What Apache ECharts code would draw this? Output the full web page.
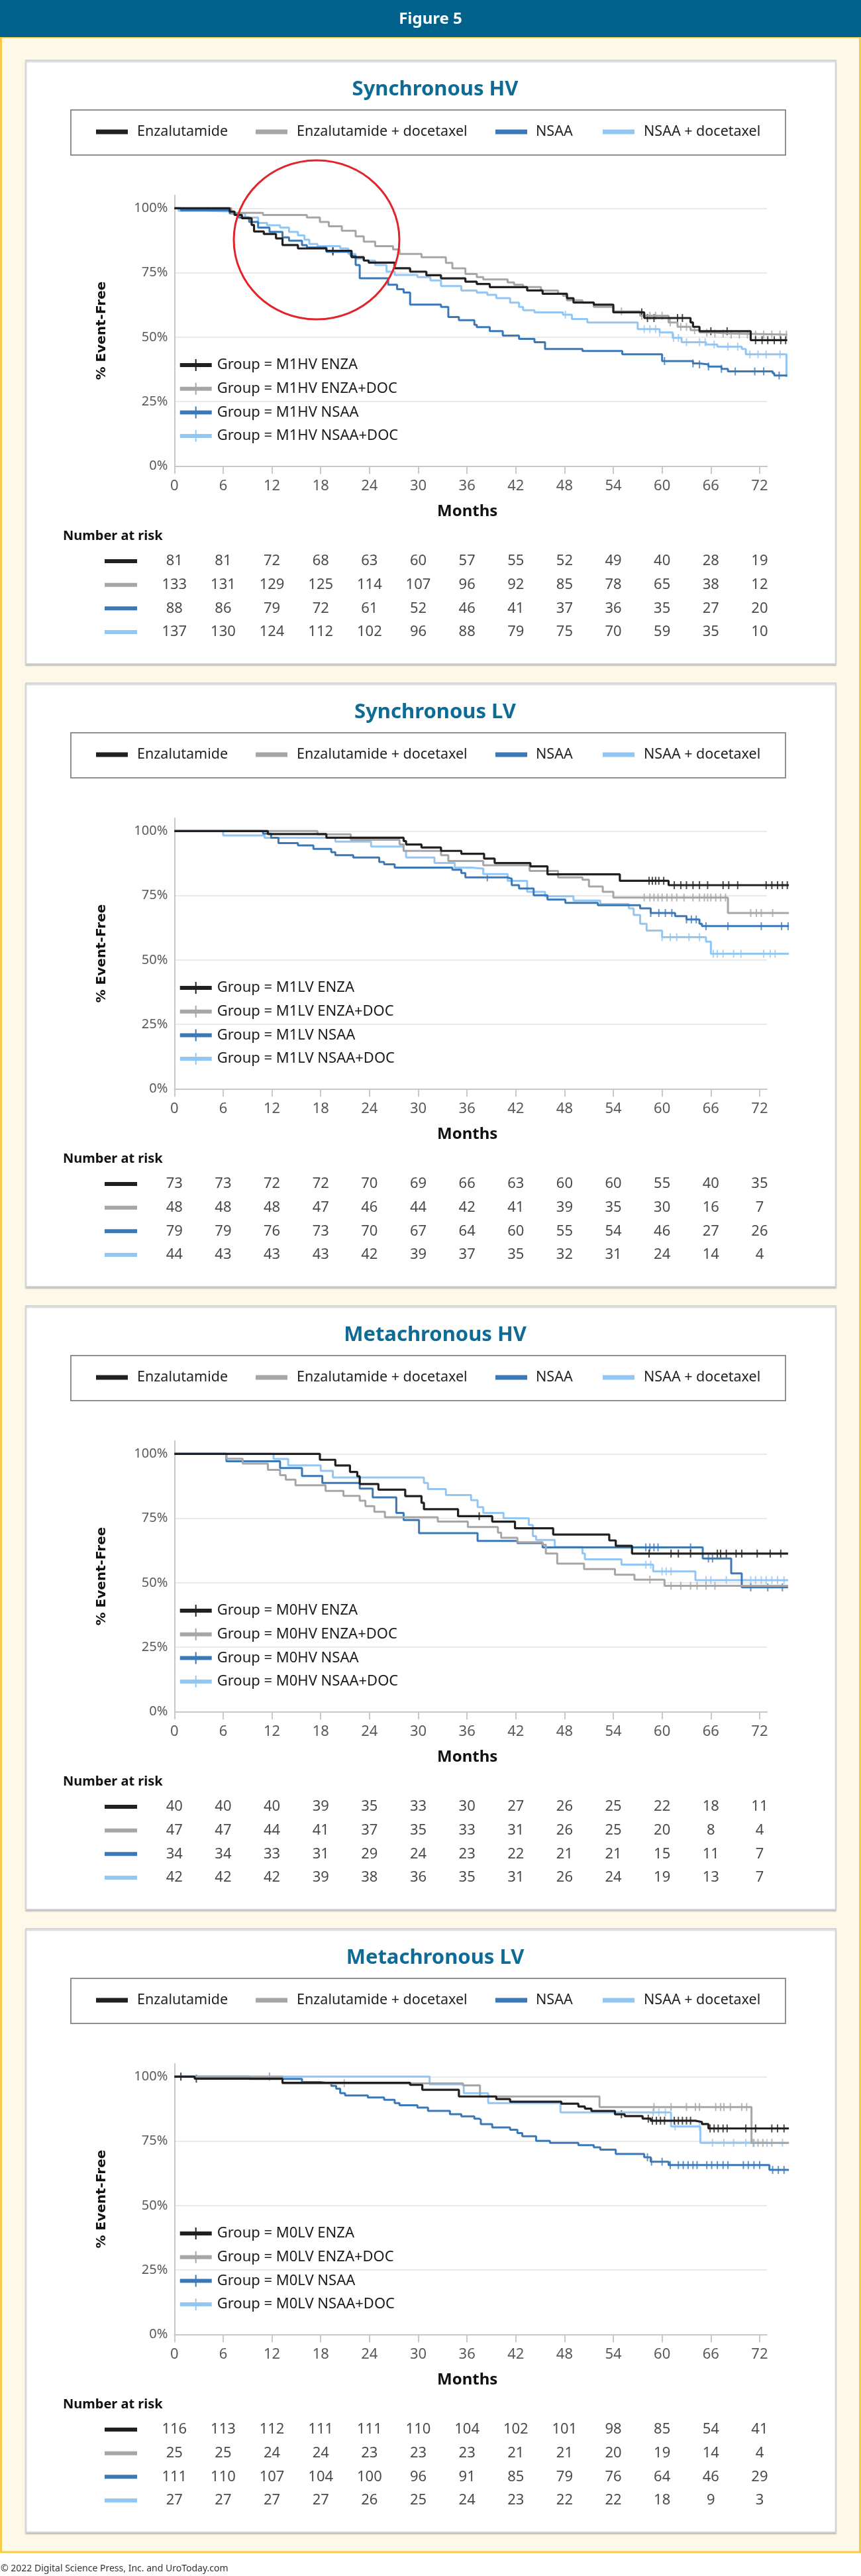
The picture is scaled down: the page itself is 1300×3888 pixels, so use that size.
<!DOCTYPE html>
<html>
<head>
<meta charset="utf-8">
<title>Figure 5</title>
<script src="https://cdn.jsdelivr.net/npm/echarts@6/dist/echarts.min.js"></script>
<style>
  html, body { margin: 0; padding: 0; background: #fff; }
  #chart { width: 1300px; height: 3888px; }
</style>
</head>
<body>
<div id="chart"></div>
<script>
// tick months shared by the plots and the number-at-risk rows
const months = [0, 6, 12, 18, 24, 30, 36, 42, 48, 54, 60, 66, 72]

const groupNames = ['Enzalutamide', 'Enzalutamide + docetaxel', 'NSAA', 'NSAA + docetaxel']
const armCodes = ['ENZA', 'ENZA+DOC', 'NSAA', 'NSAA+DOC']
const armColors = ['#231f20', '#a6a6a6', '#3a78b8', '#93c6f2']

// ---- Synchronous HV (M1HV) : [month, % event-free], step curves
const shvEnza = [[0, 100], [6.8, 98.7], [7.4, 97.4], [8.3, 96.1], [9.5, 93.5], [9.8, 91], [11, 90], [12.5, 88.3], [13.3, 85.7], [15.2, 84.4], [18.7, 83.5], [21.8, 81], [23.3, 79.7], [23.9, 78.9], [27.1, 76.7], [29, 75.4], [31, 74], [32.8, 72.8], [35.8, 71.5], [37.2, 70.6], [38.8, 69.4], [43.4, 68.1], [45.3, 66.8], [48.3, 65.1], [49.1, 63.4], [51.6, 62.6], [54, 59.6], [57.8, 57.4], [63.5, 55.7], [63.8, 54], [64.6, 52.3], [70.9, 48.8], [75.4, 48.8]]
const shvEnzaDoc = [[0, 100], [7, 98.2], [10.9, 97.4], [16.3, 96.4], [17.9, 94.7], [19, 93], [20.6, 91.3], [22.3, 89.1], [23.3, 87], [24.7, 85.3], [26.9, 84], [27.7, 82.3], [30.4, 81], [33.4, 78.8], [34.2, 76.7], [35.8, 74.5], [37.2, 73.3], [38, 72.4], [41, 71.2], [41.8, 70.3], [42.9, 69.4], [45.1, 68.1], [47.2, 66.8], [47.8, 66], [48.3, 64.3], [50.2, 63.4], [51.6, 61.7], [54, 60], [57.3, 58.3], [60.8, 55.7], [61.9, 54], [63.5, 52.7], [64.6, 51.8], [66.2, 51.4], [68, 51], [75.4, 51]]
const shvNsaa = [[0, 100], [0.8, 99.2], [6.8, 98], [7.9, 96.4], [9.2, 94.7], [10.3, 92.5], [11.7, 90.8], [13.3, 88.7], [14.1, 87.4], [15.7, 85.7], [16.3, 84.8], [18.7, 83.1], [21.7, 81.5], [22.3, 78], [22.8, 72.8], [26.3, 70.3], [27.4, 68.6], [28.2, 67.3], [29, 62.6], [32.8, 61.7], [33.7, 57.8], [35, 56.6], [36.9, 54.8], [37.2, 53.9], [38.8, 52.3], [40.4, 50.6], [42.4, 49.3], [44.3, 48], [45.6, 45.4], [50.2, 44.6], [55.1, 43.3], [60, 40.7], [63.8, 39.8], [64.6, 39.4], [65.7, 38.6], [67.3, 37.7], [68.1, 36.7], [73.6, 36], [73.8, 35.1], [75.4, 35.1]]
const shvNsaaDoc = [[0, 100], [0.5, 99], [4, 98.7], [7.1, 98], [8.7, 96.4], [10.3, 94.3], [11.4, 93.4], [13, 92.5], [14.1, 90.8], [15.2, 89.5], [16, 87.8], [16.6, 86.1], [17.6, 85.3], [20.4, 84.4], [21.4, 82.3], [22.3, 80.5], [23.3, 79.7], [24.7, 78], [26.1, 75.4], [27.1, 74.1], [29.9, 73.3], [31.5, 72], [32.8, 69.8], [35.3, 68.1], [37.2, 67.3], [38.5, 66.4], [39.6, 65.1], [41.3, 63.4], [42.4, 61.7], [42.9, 60.4], [44.3, 59.6], [47.8, 58.7], [48.9, 57], [50.8, 55.7], [57, 53.1], [59.7, 51.8], [61.3, 49.7], [62.4, 48], [65.4, 47.1], [66.8, 46.3], [69.8, 45.4], [70.3, 43.3], [75.3, 34.5]]
// censor times (months)
const shvEnzaCens = [19.5, 57.5, 58.2, 59, 61.9, 62.5, 66, 68, 71.5, 72.3, 73, 73.8, 74.6, 75.2]
const shvEnzaDocCens = [55, 57.5, 58.5, 59.2, 60, 61, 62.3, 63, 64, 65.5, 66.5, 67.5, 68.5, 69.5, 70.5, 71.5, 72.5, 73.5, 74.5, 75.3]
const shvNsaaCens = [19.5, 60.3, 63.8, 64.6, 65.7, 67.3, 69, 71.4, 72.5, 74.4]
const shvNsaaDocCens = [48.1, 57.8, 58.5, 59.2, 59.7, 61.4, 62, 63, 64.6, 65.3, 66.4, 68.1, 69.3, 70.8, 71.8, 72.8, 74.5]
const shvAtRisk = [
  [81, 81, 72, 68, 63, 60, 57, 55, 52, 49, 40, 28, 19],
  [133, 131, 129, 125, 114, 107, 96, 92, 85, 78, 65, 38, 12],
  [88, 86, 79, 72, 61, 52, 46, 41, 37, 36, 35, 27, 20],
  [137, 130, 124, 112, 102, 96, 88, 79, 75, 70, 59, 35, 10]
]

// ---- Synchronous LV (M1LV)
const slvEnza = [[0, 100], [11.5, 98.8], [18.7, 97.4], [28.2, 96.1], [28.5, 94.8], [30.4, 93.6], [32.8, 92.3], [35.3, 91.2], [38.1, 89.3], [39.4, 87.6], [43.8, 86.3], [45.9, 83.2], [54.8, 80.7], [60.8, 79], [75.6, 79]]
const slvEnzaDoc = [[0, 100], [17.6, 98.7], [21.7, 96.6], [27.7, 94.8], [28.2, 92.3], [32.8, 90.6], [33.7, 88.4], [38, 86.7], [43.7, 84.5], [47.2, 82], [50.2, 81.1], [51, 78.5], [52.7, 76.4], [54, 74.2], [68.1, 68.2], [75.6, 68.2]]
const slvNsaa = [[0, 100], [10.9, 99], [11.9, 97.4], [12.8, 95.3], [15.2, 94.4], [17.1, 93.1], [19.3, 91.8], [19.8, 90.6], [22, 89.7], [25.2, 88], [25.8, 87.1], [27.1, 85.8], [34.2, 85], [35.3, 83.7], [35.8, 82], [41, 81.5], [41.5, 79], [42.4, 77.7], [44.2, 75.1], [45.9, 73.4], [48.1, 72.1], [52.1, 71.2], [57.3, 70], [58.6, 68.2], [61.6, 67], [63, 65.7], [64.6, 64], [64.9, 63.1], [75.6, 63.1]]
const slvNsaaDoc = [[0, 100], [6, 98.3], [11.1, 97.4], [19.8, 95.9], [24.2, 94], [28.2, 92.3], [28.5, 89.7], [32, 87.6], [34.5, 85.8], [36.5, 85.4], [38, 83.3], [41, 80.7], [43.4, 76.4], [45.6, 74.7], [49.1, 73], [52.4, 71.7], [55.9, 70], [56.5, 67.4], [57.3, 64], [58.1, 61.4], [60, 58.8], [65.4, 57.1], [66, 52.4], [75.6, 52.4]]
const slvEnzaCens = [58.4, 58.8, 59.2, 59.6, 60.2, 61.5, 62.3, 63, 63.8, 64.6, 65.6, 67.5, 68.2, 69.3, 72.8, 73.5, 74.2, 74.8, 75.4]
const slvEnzaDocCens = [57.8, 58.5, 59, 59.5, 60, 60.6, 61.2, 61.8, 62.7, 63.8, 64.6, 65.2, 65.6, 66, 66.6, 67.2, 67.8, 70.9, 71.6, 72.2, 73.6]
const slvNsaaCens = [38.5, 58.6, 59.6, 60.4, 61.2, 63, 63.6, 64.2, 65.4, 68.1, 72.2, 74.7, 75.5]
const slvNsaaDocCens = [60, 61, 61.8, 63.3, 64.6, 66.3, 66.8, 67.5, 68.8, 69.7, 72.5, 73.3, 73.9]
const slvAtRisk = [
  [73, 73, 72, 72, 70, 69, 66, 63, 60, 60, 55, 40, 35],
  [48, 48, 48, 47, 46, 44, 42, 41, 39, 35, 30, 16, 7],
  [79, 79, 76, 73, 70, 67, 64, 60, 55, 54, 46, 27, 26],
  [44, 43, 43, 43, 42, 39, 37, 35, 32, 31, 24, 14, 4]
]

// ---- Metachronous HV (M0HV)
const mhvEnza = [[0, 100], [17.9, 97.7], [19.8, 95.5], [21.6, 93], [22.5, 91.3], [22.8, 88.3], [25.1, 86.1], [28.4, 83.6], [30.4, 81], [30.7, 78.5], [34.9, 75.8], [39.1, 73.7], [41.9, 71.1], [46.6, 68.7], [53.5, 66.4], [54.3, 64.3], [56.3, 61.3], [75.5, 61.3]]
const mhvEnzaDoc = [[0, 100], [6.4, 98.1], [8.4, 96.2], [11.5, 93.8], [13, 91.7], [13.7, 90], [14.9, 87.8], [18.6, 85.6], [20.8, 83.7], [22.8, 81.8], [23.5, 79.7], [24.6, 77.5], [25.9, 75.4], [32.4, 73.7], [36.1, 71.6], [39.8, 69.4], [40.2, 67.4], [42.2, 65.7], [45.3, 64.7], [45.7, 61.3], [47.1, 57.4], [50.4, 55.3], [54.2, 53.1], [56.6, 51.2], [60.3, 48.8], [75.5, 48.8]]
const mhvNsaa = [[0, 100], [6.4, 97.1], [13, 94.5], [15.7, 91.4], [18.2, 88.7], [22.8, 86.5], [24.4, 83.1], [27.3, 77.1], [28.2, 74.3], [30.1, 69.2], [37.3, 66.2], [42.2, 65.4], [45.3, 63.7], [65, 59.4], [68.5, 53.6], [69.8, 48.2], [75.5, 48.2]]
const mhvNsaaDoc = [[0, 100], [12.2, 98], [14, 95.5], [18, 93.4], [19.5, 90.8], [30.7, 88.7], [31.2, 86.3], [33.4, 84], [36.5, 82], [37.3, 79.3], [38, 77.1], [40.5, 75], [43.6, 72.4], [44.1, 68.1], [44.5, 66.6], [46.8, 63.8], [50.2, 61.3], [50.5, 59.1], [55, 57], [58.9, 54.4], [64.1, 51], [75.5, 51]]
const mhvEnzaCens = [37.5, 58.4, 61.1, 62, 63.5, 66.8, 67.2, 67.9, 69.1, 69.8, 71.7, 73.3, 74.6]
const mhvEnzaDocCens = [58.5, 61.1, 62.3, 63.5, 64.3, 65.4, 66.5]
const mhvNsaaCens = [58, 58.5, 59, 59.5, 63.5, 65.7, 66.2, 70.9, 73, 74.8]
const mhvNsaaDocCens = [58, 58.6, 60, 60.5, 61.1, 65.4, 66, 67.9, 70.9, 71.5, 72.2, 72.8, 73.5, 74.2, 75]
const mhvAtRisk = [
  [40, 40, 40, 39, 35, 33, 30, 27, 26, 25, 22, 18, 11],
  [47, 47, 44, 41, 37, 35, 33, 31, 26, 25, 20, 8, 4],
  [34, 34, 33, 31, 29, 24, 23, 22, 21, 21, 15, 11, 7],
  [42, 42, 42, 39, 38, 36, 35, 31, 26, 24, 19, 13, 7]
]

// ---- Metachronous LV (M0LV)
const mlvEnza = [[0, 100], [2.5, 99.2], [13.3, 97.6], [29, 96.8], [30.5, 94.9], [35, 92.3], [39.6, 91.3], [41.3, 90.3], [47.6, 89.5], [49.7, 88.4], [50.5, 87.6], [51.3, 86.7], [54.2, 85.4], [55.4, 84.7], [57.6, 83.7], [58.6, 82.9], [64.1, 82.4], [64.9, 81.6], [65.7, 79.9], [75.6, 79.9]]
const mlvEnzaDoc = [[0, 100], [13.3, 97.4], [35.5, 96.6], [37.6, 92.3], [52.3, 88.2], [71, 74.3], [75.6, 74.3]]
const mlvNsaa = [[0, 100], [9.2, 99.1], [15.7, 97.9], [17.9, 97.4], [19.3, 96.4], [19.9, 95.3], [20.4, 93.6], [21, 92.7], [23.8, 91.9], [25.8, 91], [27.1, 89.7], [27.7, 88.9], [29.9, 88], [31.2, 86.7], [33.9, 85.4], [35.3, 84.6], [36.9, 83.7], [37.5, 83.3], [37.7, 81.6], [39.1, 80.3], [41.3, 79.4], [42.2, 78.1], [42.8, 76.9], [44.5, 75.1], [46.2, 74.3], [49.7, 73.4], [51.6, 72.6], [52.4, 71.7], [54.3, 70], [57.8, 68.7], [58.6, 67], [60.8, 65.7], [73.2, 63.8], [75.6, 63.8]]
const mlvNsaaDoc = [[0, 100], [31.4, 97], [35.6, 93.6], [38.6, 89.7], [47.5, 86.1], [61.1, 80.7], [64.7, 74.3], [75.6, 74.3]]
const mlvEnzaCens = [0.8, 2.7, 55, 58.3, 58.8, 59.3, 59.8, 60.3, 61.5, 62, 62.5, 63, 63.5, 65.9, 66.4, 66.9, 67.5, 68, 70.3, 71.5, 73.5, 74.2, 75]
const mlvEnzaDocCens = [11.7, 20.9, 59, 61.1, 63, 64.1, 64.6, 66.6, 67.2, 67.6, 68.4, 69.8, 70.4, 71.3, 71.8, 72.4, 73.5]
const mlvNsaaCens = [58.2, 58.7, 60, 61, 62, 62.6, 63.2, 63.8, 64.3, 65.5, 66.1, 66.8, 67.5, 68.1, 70, 70.6, 71.3, 72, 73.6, 74.3, 75]
const mlvNsaaDocCens = [0.8, 11.7, 58.9, 59.6, 60.4, 61.6, 64.6, 66.2, 67.6, 68.8, 70.3, 71.2, 72.9, 74.8]
const mlvAtRisk = [
  [116, 113, 112, 111, 111, 110, 104, 102, 101, 98, 85, 54, 41],
  [25, 25, 24, 24, 23, 23, 23, 21, 21, 20, 19, 14, 4],
  [111, 110, 107, 104, 100, 96, 91, 85, 79, 76, 64, 46, 29],
  [27, 27, 27, 27, 26, 25, 24, 23, 22, 22, 18, 9, 3]
]

const panels = [
  { title: 'Synchronous HV', code: 'M1HV', curves: [shvEnza, shvEnzaDoc, shvNsaa, shvNsaaDoc], cens: [shvEnzaCens, shvEnzaDocCens, shvNsaaCens, shvNsaaDocCens], risk: shvAtRisk },
  { title: 'Synchronous LV', code: 'M1LV', curves: [slvEnza, slvEnzaDoc, slvNsaa, slvNsaaDoc], cens: [slvEnzaCens, slvEnzaDocCens, slvNsaaCens, slvNsaaDocCens], risk: slvAtRisk },
  { title: 'Metachronous HV', code: 'M0HV', curves: [mhvEnza, mhvEnzaDoc, mhvNsaa, mhvNsaaDoc], cens: [mhvEnzaCens, mhvEnzaDocCens, mhvNsaaCens, mhvNsaaDocCens], risk: mhvAtRisk },
  { title: 'Metachronous LV', code: 'M0LV', curves: [mlvEnza, mlvEnzaDoc, mlvNsaa, mlvNsaaDoc], cens: [mlvEnzaCens, mlvEnzaDocCens, mlvNsaaCens, mlvNsaaDocCens], risk: mlvAtRisk }
]

// layout
const FONT = '"Noto Sans", "DejaVu Sans", sans-serif'
const PANEL_TOP = 91
const PANEL_STEP = 940
const PANEL_H = 911
const PLOT_LEFT = 263.3
const PLOT_W = 894.7
const X_MAX = 72.9      // where the drawn axis stops
const X_MAX_DATA = 76   // the curves run a little past the axis
const PLOT_W_DATA = PLOT_W * X_MAX_DATA / X_MAX

// value of a step curve at time t (to sit censor ticks on the curve)
function kmAt(curve, t) {
  let v = curve[0][1]
  for (let k = 0; k < curve.length; k++) {
    if (curve[k][0] <= t) v = curve[k][1]
    else break
  }
  return v
}

const grid = []
const xAxis = []
const yAxis = []
const series = []
const legend = []
const graphic = [
  // cream area with gold border
  { type: 'rect', shape: { x: 1.5, y: 56, width: 1297, height: 3796 }, style: { fill: '#fef8e9', stroke: '#f7cb45', lineWidth: 3 } },
  // header bar
  { type: 'rect', shape: { x: 0, y: 0, width: 1300, height: 56 }, style: { fill: '#00628b' } },
  { type: 'text', x: 650, y: 29, style: { text: 'Figure 5', fill: '#ffffff', font: 'bold 24px ' + FONT, textAlign: 'center', textVerticalAlign: 'middle' } },
  // footer
  { type: 'text', x: 1, y: 3877, style: { text: '\u00a9 2022 Digital Science Press, Inc. and UroToday.com', fill: '#333333', font: '14px ' + FONT, textAlign: 'left', textVerticalAlign: 'middle' } }
]

const legendMarkX = [145, 386, 748, 910]
const legendTextX = [207, 448, 809, 972]

panels.forEach(function (p, i) {
  const top = PANEL_TOP + i * PANEL_STEP
  const y100 = top + 223.3
  const g = 3 * i   // axes grid, curves grid, risk grid

  // panel card, title, group legend box, "Number at risk"
  graphic.push(
    { type: 'rect', shape: { x: 39, y: top, width: 1223, height: PANEL_H }, style: { fill: '#ffffff', stroke: '#d4d4d4', lineWidth: 2, shadowColor: 'rgba(0,0,0,0.18)', shadowOffsetY: 2, shadowBlur: 2 } },
    { type: 'text', x: 657, y: top + 44, style: { text: p.title, fill: '#0d6b96', font: 'bold 31px ' + FONT, textAlign: 'center', textVerticalAlign: 'middle' } },
    { type: 'rect', shape: { x: 107, y: top + 75, width: 1079, height: 68 }, style: { fill: 'none', stroke: '#8f8f8f', lineWidth: 2 } },
    { type: 'text', x: 95, y: top + 718, style: { text: 'Number at risk', fill: '#111111', font: 'bold 20px ' + FONT, textAlign: 'left', textVerticalAlign: 'middle' } }
  )
  groupNames.forEach(function (name, j) {
    graphic.push(
      { type: 'rect', shape: { x: legendMarkX[j], y: top + 104.5, width: 48, height: 7 }, style: { fill: armColors[j] } },
      { type: 'text', x: legendTextX[j], y: top + 108, style: { text: name, fill: '#222222', font: '21.5px ' + FONT, textAlign: 'left', textVerticalAlign: 'middle' } },
      { type: 'rect', shape: { x: 158, y: top + 756 + j * 35.67 - 3, width: 49, height: 6 }, style: { fill: armColors[j] } }
    )
  })

  // visible axes (stop at X_MAX)
  grid.push({ left: PLOT_LEFT, top: y100 - 19.45, width: PLOT_W, height: 408.45 })
  xAxis.push({
    gridIndex: g,
    type: 'value',
    min: 0,
    max: X_MAX,
    name: 'Months',
    nameLocation: 'middle',
    nameGap: 57,
    nameTextStyle: { fontFamily: FONT, fontWeight: 'bold', fontSize: 24, color: '#111111', padding: [0, 10, 0, 0] },
    axisLine: { lineStyle: { color: '#c8c8c8', width: 2 } },
    axisTick: { show: true, length: 12, lineStyle: { color: '#c8c8c8', width: 2 }, customValues: months },
    axisLabel: { customValues: months, margin: 19, fontSize: 22, color: '#595959', fontFamily: FONT },
    splitLine: { show: false }
  })
  yAxis.push({
    gridIndex: g,
    type: 'value',
    min: 0,
    max: 105,
    name: '% Event-Free',
    nameLocation: 'middle',
    nameGap: 100,
    nameTextStyle: { fontFamily: '"DejaVu Sans", sans-serif', fontWeight: 'bold', fontSize: 20, color: '#111111' },
    axisLine: { show: true, lineStyle: { color: '#c8c8c8', width: 2 } },
    axisTick: { show: false, customValues: [0, 25, 50, 75, 100] },
    axisLabel: { customValues: [0, 25, 50, 75, 100], formatter: '{value}%', margin: 10, fontSize: 20, color: '#595959', fontFamily: FONT },
    splitLine: { show: true, lineStyle: { color: '#e3e3e3', width: 1.5 } }
  })

  // curves grid: same month scale, wider so the tails past 72.9 show
  grid.push({ left: PLOT_LEFT, top: y100 - 19.45, width: PLOT_W_DATA, height: 408.45 })
  xAxis.push({ gridIndex: g + 1, type: 'value', min: 0, max: X_MAX_DATA, show: false })
  yAxis.push({ gridIndex: g + 1, type: 'value', min: 0, max: 105, show: false, splitLine: { show: false } })

  // number-at-risk table, aligned to the same month scale
  grid.push({ left: PLOT_LEFT, top: top + 738.2, width: PLOT_W, height: 142.7 })
  xAxis.push({ gridIndex: g + 2, type: 'value', min: 0, max: X_MAX, show: false })
  yAxis.push({ gridIndex: g + 2, type: 'category', data: [0, 1, 2, 3], inverse: true, show: false })

  const names = armCodes.map(function (a) { return 'Group = ' + p.code + ' ' + a })

  // draw light blue first so black ends on top
  ;[3, 2, 1, 0].forEach(function (j) {
    series.push({
      type: 'line',
      name: names[j],
      xAxisIndex: g + 1,
      yAxisIndex: g + 1,
      data: p.curves[j],
      step: 'end',
      symbol: 'none',
      clip: false,
      silent: true,
      color: armColors[j],
      lineStyle: { color: armColors[j], width: j === 0 ? 3.2 : 3 }
    })
    series.push({
      type: 'scatter',
      xAxisIndex: g + 1,
      yAxisIndex: g + 1,
      data: p.cens[j].map(function (t) { return [t, kmAt(p.curves[j], t)] }),
      symbol: 'rect',
      symbolSize: [2, 12],
      clip: false,
      silent: true,
      itemStyle: { color: armColors[j] }
    })
  })

  p.risk.forEach(function (row, j) {
    series.push({
      type: 'scatter',
      xAxisIndex: g + 2,
      yAxisIndex: g + 2,
      data: row.map(function (n, k) { return [months[k], j, n] }),
      symbolSize: 1,
      silent: true,
      itemStyle: { color: 'rgba(0,0,0,0)' },
      label: {
        show: true,
        position: 'inside',
        formatter: function (d) { return d.value[2] },
        fontSize: 22,
        color: '#1a1a1a',
        fontFamily: FONT
      }
    })
  })

  legend.push({
    data: names,
    orient: 'vertical',
    left: 271.7,
    top: top + 449,
    padding: 0,
    itemWidth: 51,
    itemHeight: 18,
    itemGap: 13.7,
    selectedMode: false,
    icon: 'path://M0,6H48V12H0Z M23,0H25V18H23Z M51,9',
    itemStyle: { borderWidth: 0 },
    textStyle: { fontSize: 22, color: '#1a1a1a', fontFamily: FONT, lineHeight: 22 }
  })
})

// red highlight ellipse on the first panel
graphic.push({ type: 'ellipse', shape: { cx: 478, cy: 362, rx: 125, ry: 120 }, style: { fill: 'none', stroke: '#e2232a', lineWidth: 3 }, z: 100 })

const chart = echarts.init(document.getElementById('chart'))
chart.setOption({
  backgroundColor: '#ffffff',
  animation: false,
  textStyle: { fontFamily: FONT },
  graphic: graphic,
  grid: grid,
  xAxis: xAxis,
  yAxis: yAxis,
  legend: legend,
  series: series
})
</script>
</body>
</html>
